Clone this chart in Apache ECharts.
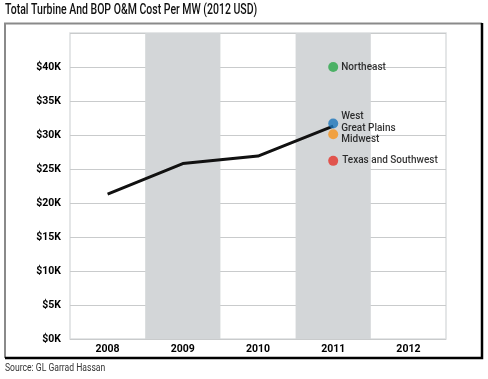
<!DOCTYPE html>
<html><head><meta charset="utf-8">
<script src="https://cdn.jsdelivr.net/npm/echarts@6/dist/echarts.min.js"></script>
<style>html,body{margin:0;padding:0;background:#fff}#c{width:488px;height:379px}</style>
</head><body><div id="c"></div>
<script>
const years = ['2008', '2009', '2010', '2011', '2012'];
const totalCost = [21300, 25800, 26900, 31300, null];
const regionNames = ['Northeast', 'Texas and Southwest', 'Midwest', 'Great Plains', 'West'];
const regionYear = ['2011', '2011', '2011', '2011', '2011'];
const regionCost = [40000, 26200, 30100, 31000, 31700];
const regionColors = ['#2ba84a', '#e5332a', '#f7941d', 'rgba(0,0,0,0)', '#1c75bc'];
const yTicks = [0, 5000, 10000, 15000, 20000, 25000, 30000, 35000, 40000];

const FONT = 'Roboto, "Liberation Sans", sans-serif';
const chart = echarts.init(document.getElementById('c'), null, {renderer: 'canvas'});

const labelOffsets = {
  'Northeast': [0, 0], 'Texas and Southwest': [1, 0], 'Midwest': [0, 5],
  'Great Plains': [0, 0], 'West': [0, -7]
};

chart.setOption({
  animation: false,
  graphic: [
    {type: 'text', left: 5, top: 3, scaleX: 0.75, style: {text: 'Total Turbine And BOP O&M Cost Per MW (2012 USD)', font: '500 14px ' + FONT, fill: '#111'}},
    {type: 'text', left: 5, top: 363, scaleX: 0.78, style: {text: 'Source: GL Garrad Hassan', font: '11px ' + FONT, fill: '#333'}},
    {type: 'polyline', shape: {points: [[5, 358], [5, 23.5], [482, 23.5]]}, style: {stroke: '#8a8a8a', lineWidth: 2, fill: null}},
    {type: 'polyline', shape: {points: [[482, 23], [482, 358], [5, 358]]}, style: {stroke: '#000', lineWidth: 2.5, fill: null}}
  ],
  grid: {left: 70, right: 42, top: 33, bottom: 40, show: true, borderColor: '#dcdedf', borderWidth: 1.5},
  xAxis: {
    type: 'category', data: years, boundaryGap: true,
    axisLine: {show: false}, axisTick: {show: false},
    axisLabel: {color: '#000', fontFamily: FONT, fontSize: 10.5, fontWeight: 'bold', margin: 5},
    splitArea: {show: true, areaStyle: {color: ['rgba(255,255,255,0)', '#d3d6d8']}},
    splitLine: {show: false}
  },
  yAxis: {
    type: 'value', min: 0, max: 45000, interval: 5000,
    axisLine: {show: false}, axisTick: {show: false},
    axisLabel: {
      color: '#000', fontFamily: FONT, fontSize: 10.5, fontWeight: 'bold', margin: 9,
      formatter: v => yTicks.indexOf(v) >= 0 ? '$' + (v / 1000) + 'K' : ''
    },
    splitLine: {show: true, lineStyle: {color: '#c9cbcc', width: 1.2}}
  },
  series: [
    {
      type: 'line', data: totalCost, symbol: 'none', z: 3,
      lineStyle: {color: '#111', width: 3}
    },
    {
      type: 'scatter', z: 4, symbolSize: 10,
      data: regionNames.map((n, i) => ({
        name: n, value: [regionYear[i], regionCost[i]],
        itemStyle: {color: regionColors[i]},
        label: {offset: labelOffsets[n]}
      })),
      label: {
        show: true, position: 'right', distance: 3,
        formatter: p => p.name, color: '#000', fontFamily: FONT, fontSize: 10, fontWeight: 500
      }
    }
  ]
});
</script></body></html>
